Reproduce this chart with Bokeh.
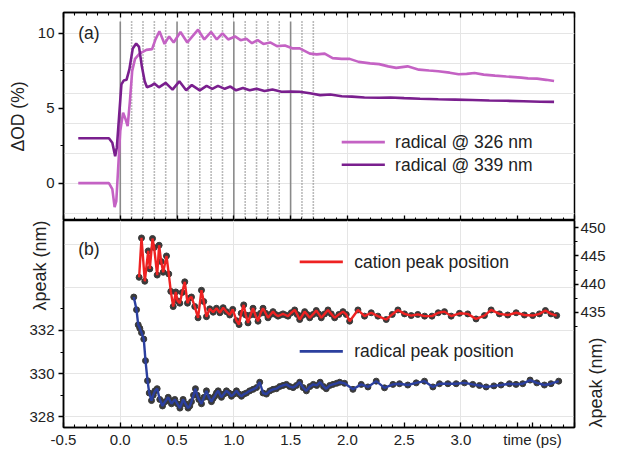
import math
from bokeh.plotting import figure
from bokeh.models import Range1d, LinearAxis, FixedTicker, Label, NumeralTickFormatter
from bokeh.layouts import column
from bokeh.embed import file_html
from bokeh.resources import INLINE

# ---------------- data ----------------
# panel (a): transient absorption traces, time in ps, dOD in %
t_326 = [-0.37, -0.20, -0.10, -0.07, -0.05, -0.035, -0.02, 0.00, 0.025, 0.045, 0.065, 0.085,
         0.105, 0.13, 0.17, 0.23, 0.28, 0.31, 0.345, 0.39, 0.43, 0.47, 0.53, 0.59, 0.685, 0.74,
         0.80, 0.85, 0.90, 0.95, 1.01, 1.06, 1.11, 1.16, 1.21, 1.26, 1.32, 1.38, 1.45, 1.52,
         1.58, 1.67, 1.73, 1.80, 1.87, 1.95, 2.02, 2.10, 2.20, 2.28, 2.36, 2.43, 2.53, 2.63,
         2.72, 2.80, 2.90, 2.98, 3.05, 3.12, 3.20, 3.30, 3.40, 3.53, 3.59, 3.67, 3.75, 3.82]
od_326 = [0.0, 0.0, 0.0, -0.4, -1.6, -1.2, 0.8, 3.5, 4.7, 4.3, 3.8, 5.5,
          7.5, 8.3, 8.65, 8.9, 8.95, 9.6, 10.15, 9.3, 9.8, 9.4, 10.1, 9.4, 10.25, 9.6,
          10.1, 9.6, 10.0, 9.6, 9.8, 9.55, 9.65, 9.35, 9.55, 9.3, 9.4, 9.15, 9.2, 9.0,
          9.0, 8.65, 8.6, 8.65, 8.35, 8.3, 8.3, 8.1, 8.0, 7.95, 7.8, 7.7, 7.8, 7.58,
          7.52, 7.47, 7.38, 7.27, 7.3, 7.36, 7.25, 7.18, 7.12, 7.05, 7.0, 6.98, 6.9, 6.82]

t_339 = [-0.37, -0.20, -0.10, -0.07, -0.045, -0.03, -0.01, 0.01, 0.03, 0.055, 0.08, 0.11,
         0.14, 0.165, 0.19, 0.215, 0.235, 0.27, 0.30, 0.34, 0.40, 0.46, 0.52, 0.58, 0.63,
         0.70, 0.76, 0.81, 0.86, 0.92, 0.97, 1.02, 1.08, 1.14, 1.20, 1.27, 1.34, 1.42, 1.50,
         1.58, 1.67, 1.76, 1.85, 1.95, 2.04, 2.15, 2.28, 2.38, 2.50, 2.64, 2.80, 2.95, 3.10,
         3.25, 3.40, 3.55, 3.70, 3.82]
od_339 = [3.0, 3.0, 3.0, 2.7, 1.8, 2.4, 4.5, 6.6, 6.85, 6.9, 7.6, 9.0,
          9.33, 9.1, 7.8, 6.8, 6.4, 6.5, 6.65, 6.4, 6.7, 6.25, 6.8, 6.2, 6.55,
          6.2, 6.5, 6.3, 6.5, 6.3, 6.45, 6.2, 6.35, 6.2, 6.3, 6.15, 6.25, 6.1, 6.12,
          6.1, 6.0, 5.88, 5.92, 5.8, 5.78, 5.72, 5.7, 5.72, 5.68, 5.64, 5.6, 5.58, 5.55,
          5.52, 5.5, 5.47, 5.44, 5.43]

# vertical guide lines in panel (a), ps
solid_marks = [0.0, 0.5, 1.0, 1.5]
dotted_marks = [0.1, 0.2, 0.3, 0.4, 0.6, 0.7, 0.8, 0.9, 1.1, 1.2, 1.3, 1.4, 1.6, 1.7]

# panel (b): cation peak position (nm, right axis)
t_cat = [0.166, 0.187, 0.216, 0.246, 0.260, 0.284, 0.298, 0.325, 0.342, 0.360, 0.378, 0.407,
         0.427, 0.445, 0.466, 0.489, 0.505, 0.524, 0.545, 0.568, 0.592, 0.610, 0.627, 0.656,
         0.685, 0.715, 0.735, 0.759, 0.788, 0.818, 0.847, 0.877, 0.906, 0.935, 0.964, 0.990,
         1.023, 1.046, 1.065, 1.087, 1.105, 1.125, 1.147, 1.169, 1.190, 1.213, 1.235, 1.257,
         1.280, 1.301, 1.323, 1.345, 1.367, 1.389, 1.411, 1.433, 1.455, 1.477, 1.506, 1.536,
         1.558, 1.580, 1.602, 1.624, 1.646, 1.668, 1.697, 1.726, 1.748, 1.770, 1.800, 1.829,
         1.858, 1.888, 1.925, 1.961, 1.990, 2.020, 2.093, 2.151, 2.210, 2.269, 2.342, 2.395,
         2.445, 2.503, 2.562, 2.620, 2.680, 2.745, 2.800, 2.855, 2.914, 2.987, 3.060, 3.133,
         3.207, 3.266, 3.339, 3.412, 3.486, 3.559, 3.632, 3.691, 3.744, 3.793, 3.843]
nm_cat = [441.2, 448.2, 440.5, 445.9, 442.7, 448.1, 446.5, 441.6, 446.9, 444.0, 442.1, 445.0,
          441.8, 438.7, 436.0, 438.6, 437.0, 436.6, 438.5, 440.4, 436.6, 437.5, 437.7, 436.0,
          434.0, 438.9, 436.9, 434.2, 435.6, 435.0, 435.7, 434.9, 435.8, 435.1, 434.5, 435.5,
          433.5, 432.8, 434.8, 436.3, 434.5, 433.1, 434.5, 435.7, 434.5, 433.4, 434.8, 435.7,
          434.8, 434.0, 434.6, 435.1, 434.6, 434.3, 434.5, 434.7, 434.5, 434.3, 434.9, 435.4,
          434.6, 433.7, 434.4, 435.1, 434.6, 434.0, 434.6, 435.3, 434.7, 434.0, 434.7, 435.4,
          434.7, 434.0, 434.6, 435.1, 434.6, 433.4, 435.4, 434.3, 434.9, 434.3, 433.7, 434.6,
          435.4, 434.7, 434.4, 434.6, 434.3, 434.3, 434.9, 435.1, 434.3, 434.8, 434.7, 433.8,
          434.4, 435.4, 434.7, 434.5, 434.9, 434.5, 434.4, 434.7, 435.3, 434.7, 434.4]

# panel (b): radical peak position (nm, left axis)
t_rad = [0.119, 0.143, 0.158, 0.172, 0.187, 0.207, 0.222, 0.240, 0.255, 0.275, 0.290, 0.305,
         0.325, 0.348, 0.372, 0.395, 0.422, 0.437, 0.451, 0.465, 0.480, 0.503, 0.525, 0.540,
         0.553, 0.575, 0.597, 0.612, 0.627, 0.645, 0.662, 0.677, 0.692, 0.715, 0.737, 0.759,
         0.780, 0.803, 0.818, 0.832, 0.847, 0.862, 0.876, 0.891, 0.913, 0.935, 0.957, 0.979,
         1.000, 1.023, 1.045, 1.067, 1.089, 1.111, 1.140, 1.170, 1.200, 1.228, 1.257, 1.287,
         1.317, 1.346, 1.375, 1.404, 1.433, 1.463, 1.492, 1.522, 1.551, 1.580, 1.610, 1.639,
         1.670, 1.700, 1.730, 1.760, 1.790, 1.814, 1.845, 1.873, 1.905, 1.932, 1.975, 2.049,
         2.122, 2.181, 2.254, 2.327, 2.401, 2.459, 2.532, 2.606, 2.679, 2.753, 2.811, 2.885,
         2.958, 3.031, 3.104, 3.163, 3.222, 3.290, 3.353, 3.427, 3.485, 3.544, 3.609, 3.668,
         3.735, 3.793, 3.861]
nm_rad = [333.55, 332.96, 332.26, 332.1, 331.9, 331.6, 330.6, 329.67, 329.1, 328.75, 329.0, 329.2,
          329.3, 328.8, 328.5, 328.7, 328.9, 328.75, 328.6, 328.7, 328.8, 328.6, 328.4, 328.6,
          328.8, 328.6, 328.4, 328.5, 328.7, 329.0, 329.3, 329.0, 328.8, 328.6, 328.9, 329.2,
          328.9, 328.7, 328.85, 328.95, 329.1, 329.2, 329.05, 328.9, 329.05, 329.2, 329.1, 328.95,
          329.05, 329.2, 329.05, 328.95, 329.05, 329.1, 329.2, 329.27, 329.35, 329.6, 329.1, 329.05,
          329.2, 329.27, 329.3, 329.4, 329.45, 329.5, 329.4, 329.35, 329.45, 329.6, 329.35, 329.2,
          329.4, 329.5, 329.45, 329.6, 329.4, 329.3, 329.45, 329.5, 329.55, 329.6, 329.55, 329.27,
          329.5, 329.38, 329.65, 329.34, 329.5, 329.53, 329.47, 329.57, 329.65, 329.38, 329.53, 329.53,
          329.53, 329.57, 329.5, 329.45, 329.38, 329.43, 329.47, 329.53, 329.5, 329.53, 329.7, 329.57,
          329.47, 329.53, 329.65]

# ticks / labels
x_major = [-0.5, 0.0, 0.5, 1.0, 1.5, 2.0, 2.5, 3.0, 3.5, 4.0]
x_minor = [-0.4, -0.3, -0.2, -0.1, 0.1, 0.2, 0.3, 0.4, 0.6, 0.7, 0.8, 0.9, 1.1, 1.2, 1.3, 1.4,
           1.6, 1.7, 1.8, 1.9, 2.1, 2.2, 2.3, 2.4, 2.6, 2.7, 2.8, 2.9, 3.1, 3.2, 3.3, 3.4,
           3.6, 3.7, 3.8, 3.9]
x_title_pos = 3.63          # where the "time (ps)" caption sits in the tick-label row
od_major = [0, 5, 10]
od_minor = [2.5, 7.5]
left_major = [328, 330, 332]
left_minor = [329, 331, 333]
right_major = [435, 440, 445, 450]
right_minor = [432.5, 437.5, 442.5, 447.5]

legend_a = ["radical @ 326 nm", "radical @ 339 nm"]
legend_b = ["cation peak position", "radical peak position"]
x_title = "time (ps)"
ya_title = "ΔOD (%)"
yb_title = "λpeak (nm)"

C326 = "#c462c4"
C339 = "#7a1f8e"
CRED = "#ee2222"
CBLUE = "#2b3f9e"
CMARK = "#3a3a3a"
FONT = "Liberation Sans"
TXT = "#222222"

xr = Range1d(-0.5, 4.0)


def style_axis(ax, tin, tout, mtin, mtout, labels=True):
    ax.axis_line_color = "black"
    ax.axis_line_width = 1.5
    ax.major_tick_line_color = "black"
    ax.major_tick_line_width = 1.3
    ax.minor_tick_line_color = "black"
    ax.minor_tick_line_width = 1.1
    ax.major_tick_in = tin
    ax.major_tick_out = tout
    ax.minor_tick_in = mtin
    ax.minor_tick_out = mtout
    ax.major_label_text_font = FONT
    ax.major_label_text_color = TXT
    ax.axis_label_text_font = FONT
    ax.axis_label_text_color = TXT
    ax.axis_label_text_font_style = "normal"
    ax.axis_label_text_font_size = "17.5px"
    if labels:
        ax.major_label_text_font_size = "15px"
        ax.major_label_standoff = 4
    else:
        ax.major_label_text_font_size = "1px"
        ax.major_label_standoff = 0
        ax.major_label_overrides = {t: "" for t in x_major}


def base_fig(height, y_range, mbt, mbb):
    p = figure(width=618, height=height, x_range=xr, y_range=y_range,
               output_backend="svg", toolbar_location=None,
               x_axis_location=None, y_axis_location=None,
               min_border_left=63, min_border_right=43,
               min_border_top=mbt, min_border_bottom=mbb)
    p.outline_line_color = "black"
    p.outline_line_width = 1.5
    p.background_fill_color = "white"
    p.border_fill_color = "white"
    return p


def add_label(p, text, x, y, size="17.5px", align="left", baseline="middle", yr="default"):
    p.add_layout(Label(x=x, y=y, text=text, text_align=align,
                       text_baseline=baseline, text_font=FONT, text_font_size=size,
                       text_color=TXT, y_range_name=yr))


# ---------------- panel (a) ----------------
p1 = base_fig(220, Range1d(-2.5, 11.4), 12, 0)
ax_top = LinearAxis(ticker=FixedTicker(ticks=x_major, minor_ticks=x_minor))
style_axis(ax_top, 5, 0, 3, 0, labels=False)
p1.add_layout(ax_top, "above")
ax_bot1 = LinearAxis(ticker=FixedTicker(ticks=x_major, minor_ticks=x_minor))
style_axis(ax_bot1, 5, 0, 3, 0, labels=False)
p1.add_layout(ax_bot1, "below")
ax_l1 = LinearAxis(ticker=FixedTicker(ticks=od_major, minor_ticks=od_minor),
                   axis_label=ya_title)
style_axis(ax_l1, 0, 5, 0, 3)
ax_l1.axis_label_standoff = 7
p1.add_layout(ax_l1, "left")

y_lo, y_hi = -2.5, 10.8
p1.segment(x0=solid_marks, y0=[y_lo] * len(solid_marks), x1=solid_marks,
           y1=[y_hi] * len(solid_marks), line_color="#8a8a8a", line_width=1.6)
p1.segment(x0=dotted_marks, y0=[y_lo] * len(dotted_marks), x1=dotted_marks,
           y1=[y_hi] * len(dotted_marks), line_color="#777777", line_width=1.6,
           line_dash="1 2")

p1.line(t_326, od_326, line_color=C326, line_width=2.6)
p1.line(t_339, od_339, line_color=C339, line_width=2.6)

# legend (a)
p1.segment(x0=[1.95, 1.95], y0=[2.74, 1.23], x1=[2.33, 2.33], y1=[2.74, 1.23],
           line_color=[C326, C339], line_width=2.6)
add_label(p1, legend_a[0], 2.42, 2.74)
add_label(p1, legend_a[1], 2.42, 1.23)
add_label(p1, "(a)", -0.37, 10.0)

# ---------------- panel (b) ----------------
p2 = base_fig(230, Range1d(327.5, 337.1), 0, 22)
p2.extra_y_ranges = {"right": Range1d(414.5, 451.3)}
b_major = x_major[:-1] + [x_title_pos, x_major[-1]]
ax_b = LinearAxis(ticker=FixedTicker(ticks=b_major, minor_ticks=x_minor),
                  formatter=NumeralTickFormatter(format="0.0"))
style_axis(ax_b, 5, 0, 3, 0)
ax_b.major_label_overrides = {3.5: "", x_title_pos: x_title, 4.0: ""}
ax_b.major_label_standoff = 3
p2.add_layout(ax_b, "below")

ax_l2 = LinearAxis(ticker=FixedTicker(ticks=left_major, minor_ticks=left_minor),
                   axis_label=yb_title)
style_axis(ax_l2, 0, 5, 0, 3)
ax_l2.axis_label_orientation = math.pi / 2
ax_l2.axis_label_align = "end"
ax_l2.axis_label_standoff = -14
ax_l2.axis_label_text_font_size = "18px"
p2.add_layout(ax_l2, "left")

ax_r2 = LinearAxis(y_range_name="right",
                   ticker=FixedTicker(ticks=right_major, minor_ticks=right_minor),
                   axis_label=yb_title)
style_axis(ax_r2, 0, 4, 0, 3)
ax_r2.major_label_standoff = 2
ax_r2.axis_label_orientation = math.pi / 2
ax_r2.axis_label_align = "start"
ax_r2.axis_label_text_align = "left"
ax_r2.axis_label_standoff = -13
ax_r2.axis_label_text_font_size = "18px"
p2.add_layout(ax_r2, "right")

p2.scatter(t_rad, nm_rad, size=6, fill_color=CMARK, line_color=CMARK)
p2.line(t_rad, nm_rad, line_color=CBLUE, line_width=2.4)
p2.scatter(t_cat, nm_cat, size=6, fill_color=CMARK, line_color=CMARK, y_range_name="right")
p2.line(t_cat, nm_cat, line_color=CRED, line_width=2.4, y_range_name="right")

# legend (b)
p2.segment(x0=[1.58, 1.58], y0=[335.18, 331.03], x1=[1.96, 1.96], y1=[335.18, 331.03],
           line_color=[CRED, CBLUE], line_width=2.6)
add_label(p2, legend_b[0], 2.06, 335.18)
add_label(p2, legend_b[1], 2.06, 331.03)
add_label(p2, "(b)", -0.37, 335.8)

layout = column(p1, p2, spacing=0)
open("out.html", "w").write(file_html(layout, INLINE))
